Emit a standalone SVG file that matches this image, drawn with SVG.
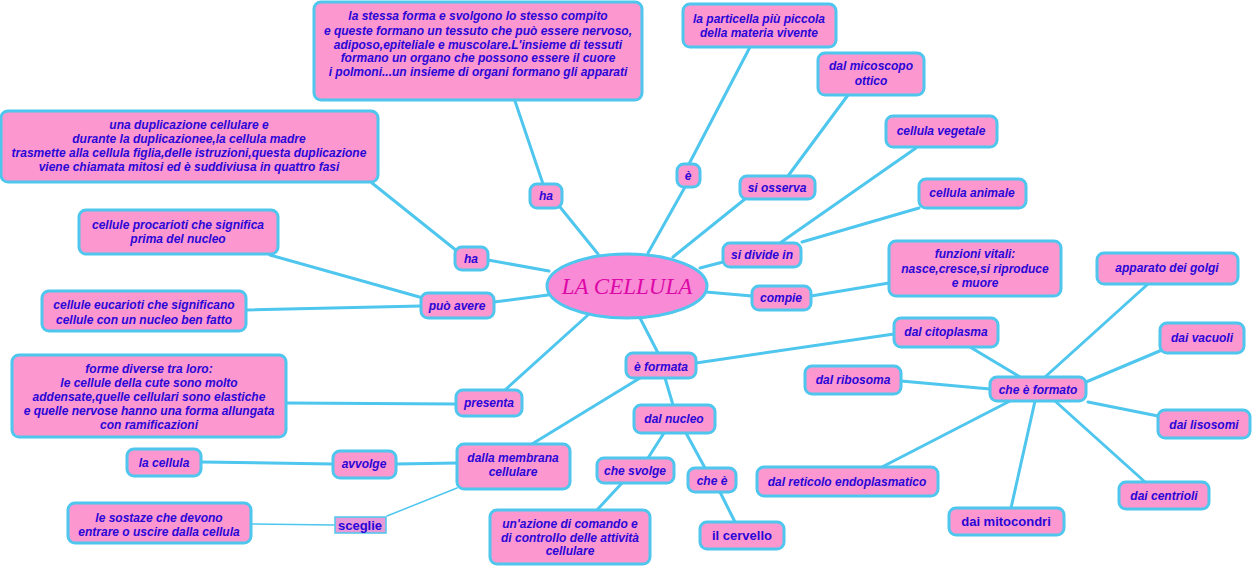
<svg xmlns="http://www.w3.org/2000/svg" width="1253" height="567" viewBox="0 0 1253 567">
<style>
.b{fill:#fc98cf;stroke:#4ec6ee;stroke-width:3}
.t{font-family:"Liberation Sans",Arial,sans-serif;font-size:12px;font-weight:bold;font-style:italic;fill:#2a06d8;text-anchor:middle}
.n{font-family:"Liberation Sans",Arial,sans-serif;font-size:13px;font-weight:bold;fill:#2a06d8;text-anchor:middle}
.c line{stroke:#4ec6ee;stroke-width:3;stroke-linecap:round}
.c line.thin{stroke-width:1.5}
</style>
<rect width="1253" height="567" fill="#ffffff"/>
<g class="c">
<line x1="515" y1="101" x2="543" y2="184"/>
<line x1="560" y1="207" x2="598" y2="254"/>
<line x1="372" y1="183" x2="457" y2="251"/>
<line x1="488" y1="260" x2="549" y2="271"/>
<line x1="270" y1="255" x2="423" y2="298"/>
<line x1="246" y1="310" x2="421" y2="306"/>
<line x1="494" y1="302" x2="548" y2="295"/>
<line x1="286" y1="403" x2="456" y2="404"/>
<line x1="505" y1="390" x2="588" y2="315"/>
<line x1="640" y1="318" x2="658" y2="353"/>
<line x1="696" y1="363" x2="894" y2="334"/>
<line x1="640" y1="378" x2="532" y2="444"/>
<line x1="665" y1="378" x2="673" y2="405"/>
<line x1="901" y1="381" x2="990" y2="389"/>
<line x1="970" y1="347" x2="1020" y2="377"/>
<line x1="1045" y1="377" x2="1148" y2="284"/>
<line x1="1086" y1="382" x2="1162" y2="350"/>
<line x1="1088" y1="402" x2="1158" y2="416"/>
<line x1="1055" y1="401" x2="1145" y2="482"/>
<line x1="1035" y1="401" x2="1011" y2="508"/>
<line x1="1010" y1="401" x2="880" y2="468"/>
<line x1="664" y1="433" x2="648" y2="458"/>
<line x1="686" y1="433" x2="705" y2="468"/>
<line x1="622" y1="483" x2="597" y2="510"/>
<line x1="720" y1="492" x2="735" y2="522"/>
<line x1="457" y1="463" x2="396" y2="464"/>
<line x1="333" y1="464" x2="201" y2="462"/>
<line class="thin" x1="457" y1="488" x2="387" y2="516"/>
<line class="thin" x1="334" y1="525" x2="251" y2="524"/>
<line x1="648" y1="253" x2="685" y2="187"/>
<line x1="689" y1="164" x2="750" y2="47"/>
<line x1="673" y1="257" x2="745" y2="199"/>
<line x1="788" y1="176" x2="848" y2="95"/>
<line x1="700" y1="268" x2="723" y2="262"/>
<line x1="780" y1="243" x2="916" y2="148"/>
<line x1="802" y1="242" x2="919" y2="208"/>
<line x1="706" y1="292" x2="752" y2="296"/>
<line x1="811" y1="296" x2="889" y2="283"/>
</g>
<g id="center">
<ellipse cx="627" cy="286" rx="80" ry="32" fill="#f98ad6" stroke="#4ec6ee" stroke-width="3"/>
<text x="627" y="294" font-family="Liberation Serif,'Times New Roman',serif" font-size="23" font-style="italic" fill="#dd08a8" text-anchor="middle">LA CELLULA</text>
</g>
<g id="n-tessuti"><rect class="b" x="314" y="2" width="328" height="98" rx="7"/>
<text class="t" x="478" y="20">la stessa forma e svolgono lo stesso compito</text>
<text class="t" x="478" y="35">e queste formano un tessuto che può essere nervoso,</text>
<text class="t" x="478" y="49">adiposo,epiteliale e muscolare.L'insieme di tessuti</text>
<text class="t" x="478" y="62">formano un organo che possono essere il cuore</text>
<text class="t" x="478" y="76">i polmoni...un insieme di organi formano gli apparati</text></g>
<g id="n-particella"><rect class="b" x="683" y="4" width="153" height="43" rx="7"/>
<text class="t" x="759" y="23">la particella più piccola</text>
<text class="t" x="759" y="37">della materia vivente</text></g>
<g id="n-microscopio"><rect class="b" x="818" y="53" width="106" height="42" rx="7"/>
<text class="t" x="871" y="70">dal micoscopo</text>
<text class="t" x="871" y="85">ottico</text></g>
<g id="n-vegetale"><rect class="b" x="886" y="116" width="111" height="31" rx="7"/>
<text class="t" x="941" y="135">cellula vegetale</text></g>
<g id="n-animale"><rect class="b" x="919" y="179" width="107" height="29" rx="7"/>
<text class="t" x="972" y="197">cellula animale</text></g>
<g id="n-funzioni"><rect class="b" x="889" y="241" width="172" height="55" rx="7"/>
<text class="t" x="975" y="258">funzioni vitali:</text>
<text class="t" x="975" y="273">nasce,cresce,si riproduce</text>
<text class="t" x="975" y="287">e muore</text></g>
<g id="n-golgi"><rect class="b" x="1097" y="253" width="141" height="31" rx="7"/>
<text class="t" x="1167" y="272">apparato dei golgi</text></g>
<g id="n-vacuoli"><rect class="b" x="1160" y="323" width="84" height="30" rx="7"/>
<text class="t" x="1202" y="342">dai vacuoli</text></g>
<g id="n-lisosomi"><rect class="b" x="1158" y="410" width="92" height="28" rx="7"/>
<text class="t" x="1204" y="429">dai lisosomi</text></g>
<g id="n-centrioli"><rect class="b" x="1119" y="482" width="90" height="27" rx="7"/>
<text class="t" x="1164" y="500">dai centrioli</text></g>
<g id="n-mitocondri"><rect class="b" x="949" y="508" width="115" height="27" rx="7"/>
<text class="n" x="1006" y="526">dai mitocondri</text></g>
<g id="n-reticolo"><rect class="b" x="757" y="467" width="181" height="29" rx="7"/>
<text class="t" x="847" y="486">dal reticolo endoplasmatico</text></g>
<g id="n-formato"><rect class="b" x="990" y="377" width="96" height="24" rx="7"/>
<text class="t" x="1038" y="394">che è formato</text></g>
<g id="n-citoplasma"><rect class="b" x="894" y="318" width="104" height="29" rx="7"/>
<text class="t" x="946" y="336">dal citoplasma</text></g>
<g id="n-ribosoma"><rect class="b" x="805" y="366" width="96" height="28" rx="7"/>
<text class="t" x="853" y="384">dal ribosoma</text></g>
<g id="n-formata"><rect class="b" x="626" y="353" width="70" height="25" rx="7"/>
<text class="t" x="661" y="371">è formata</text></g>
<g id="n-nucleo"><rect class="b" x="634" y="405" width="81" height="28" rx="7"/>
<text class="t" x="674" y="423">dal nucleo</text></g>
<g id="n-svolge"><rect class="b" x="597" y="458" width="77" height="25" rx="7"/>
<text class="t" x="635" y="475">che svolge</text></g>
<g id="n-chee"><rect class="b" x="688" y="468" width="48" height="24" rx="7"/>
<text class="t" x="712" y="485">che è</text></g>
<g id="n-cervello"><rect class="b" x="700" y="522" width="84" height="27" rx="7"/>
<text class="n" x="742" y="540">il cervello</text></g>
<g id="n-azione"><rect class="b" x="490" y="510" width="160" height="54" rx="7"/>
<text class="t" x="570" y="528">un'azione di comando e</text>
<text class="t" x="570" y="542">di controllo delle attività</text>
<text class="t" x="570" y="555">cellulare</text></g>
<g id="n-membrana"><rect class="b" x="457" y="444" width="113" height="45" rx="7"/>
<text class="t" x="513" y="462">dalla membrana</text>
<text class="t" x="513" y="476">cellulare</text></g>
<g id="n-avvolge"><rect class="b" x="333" y="451" width="63" height="27" rx="7"/>
<text class="t" x="364" y="468">avvolge</text></g>
<g id="n-lacellula"><rect class="b" x="127" y="449" width="74" height="27" rx="7"/>
<text class="t" x="164" y="467">la cellula</text></g>
<g id="n-sceglie"><rect x="335" y="517" width="51" height="16" fill="#e79ad8" stroke="#4ec6ee" stroke-width="1.5"/>
<text class="n" x="360" y="530">sceglie</text></g>
<g id="n-sostanze"><rect class="b" x="68" y="503" width="183" height="40" rx="7"/>
<text class="t" x="159" y="522">le sostaze che devono</text>
<text class="t" x="159" y="536">entrare o uscire dalla cellula</text></g>
<g id="n-forme"><rect class="b" x="12" y="355" width="274" height="82" rx="7"/>
<text class="t" x="149" y="373">forme diverse tra loro:</text>
<text class="t" x="149" y="387">le cellule della cute sono molto</text>
<text class="t" x="149" y="401">addensate,quelle cellulari sono elastiche</text>
<text class="t" x="149" y="415">e quelle nervose hanno una forma allungata</text>
<text class="t" x="149" y="429">con ramificazioni</text></g>
<g id="n-presenta"><rect class="b" x="456" y="390" width="66" height="26" rx="7"/>
<text class="t" x="489" y="407">presenta</text></g>
<g id="n-eucarioti"><rect class="b" x="42" y="291" width="204" height="40" rx="7"/>
<text class="t" x="144" y="309">cellule eucarioti che significano</text>
<text class="t" x="144" y="324">cellule con un nucleo ben fatto</text></g>
<g id="n-puoavere"><rect class="b" x="421" y="293" width="73" height="25" rx="7"/>
<text class="t" x="457" y="310">può avere</text></g>
<g id="n-procarioti"><rect class="b" x="79" y="210" width="199" height="44" rx="7"/>
<text class="t" x="178" y="229">cellule procarioti che significa</text>
<text class="t" x="178" y="243">prima del nucleo</text></g>
<g id="n-ha2"><rect class="b" x="455" y="247" width="33" height="23" rx="7"/>
<text class="t" x="471" y="263">ha</text></g>
<g id="n-ha1"><rect class="b" x="530" y="184" width="32" height="24" rx="7"/>
<text class="t" x="546" y="200">ha</text></g>
<g id="n-duplicazione"><rect class="b" x="1" y="111" width="377" height="71" rx="7"/>
<text class="t" x="189" y="129">una duplicazione cellulare e</text>
<text class="t" x="189" y="143">durante la duplicazionee,la cellula madre</text>
<text class="t" x="189" y="157">trasmette alla cellula figlia,delle istruzioni,questa duplicazione</text>
<text class="t" x="189" y="171">viene chiamata mitosi ed è suddiviusa in quattro fasi</text></g>
<g id="n-e"><rect class="b" x="677" y="164" width="23" height="23" rx="7"/>
<text class="t" x="688" y="180">è</text></g>
<g id="n-osserva"><rect class="b" x="740" y="176" width="75" height="23" rx="7"/>
<text class="t" x="777" y="192">si osserva</text></g>
<g id="n-divide"><rect class="b" x="723" y="243" width="78" height="24" rx="7"/>
<text class="t" x="762" y="259">si divide in</text></g>
<g id="n-compie"><rect class="b" x="752" y="286" width="59" height="24" rx="7"/>
<text class="t" x="781" y="302">compie</text></g>
</svg>
